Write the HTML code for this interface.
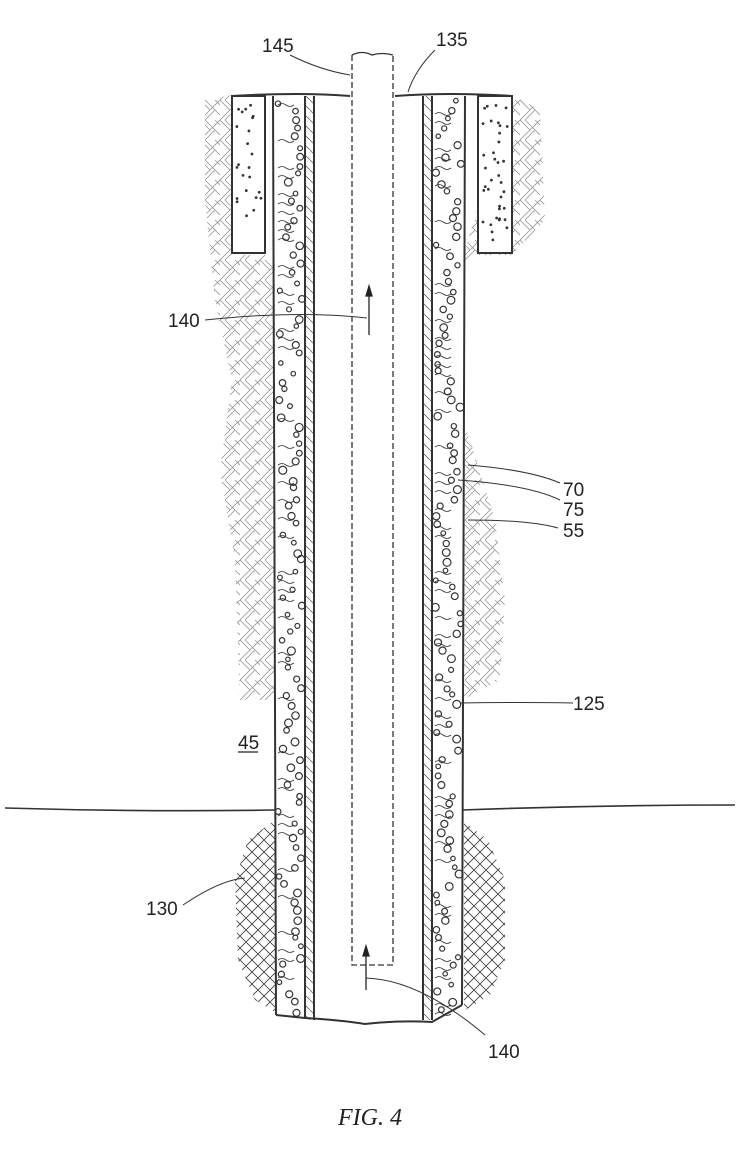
<!DOCTYPE html>
<html><head><meta charset="utf-8"><style>
html,body{margin:0;padding:0;background:#fff;}
svg{display:block}
text{font-family:"Liberation Sans",sans-serif;font-size:19px;fill:#222}
</style></head><body>
<svg id="s" width="739" height="1165" viewBox="0 0 739 1165" xmlns="http://www.w3.org/2000/svg">
<defs>
<pattern id="herr" width="20" height="20" patternUnits="userSpaceOnUse">
<path d="M0 20 L10 10 M5 20 L15 10 M10 10 L20 0 M10 10 L0 0 M15 10 L5 0 M20 15 L15 10 M20 5 L15 0" stroke="#666" stroke-width="0.8" fill="none"/>
</pattern>
<pattern id="cross" width="12" height="12" patternUnits="userSpaceOnUse">
<path d="M0 0 L12 12 M12 0 L0 12" stroke="#444" stroke-width="0.9" fill="none"/>
</pattern>
<pattern id="hatch" width="10" height="10" patternUnits="userSpaceOnUse">
<path d="M0 0 L10 10" stroke="#666" stroke-width="0.8"/>
</pattern>
</defs>
<path d="M205 100 L232 95 L232 255 L265 255 L265 260 L275 260 L275 700 L240 700 L235 560 L220 470 L232 380 L215 300 L205 200 Z" fill="url(#herr)" opacity="0.7"/>
<path d="M512 95 L540 110 L545 220 L512 255 L478 255 L478 260 L462 260 L462 700 L500 680 L505 600 L495 520 L470 440 L462 420 L462 260 Z" fill="url(#herr)" opacity="0.7"/>
<path d="M275 820 L248 840 L235 880 L238 960 L255 1000 L275 1012 Z" fill="url(#cross)"/>
<path d="M462 820 L488 840 L505 880 L505 960 L490 995 L462 1012 Z" fill="url(#cross)"/>
<rect x="232" y="96" width="33" height="157" fill="#fff" stroke="#333" stroke-width="2"/>
<rect x="478" y="96" width="34" height="157" fill="#fff" stroke="#333" stroke-width="2"/>
<rect x="275" y="96" width="30" height="924" fill="#fff"/>
<rect x="432" y="96" width="32" height="924" fill="#fff"/>
<rect x="305" y="96" width="9" height="924" fill="url(#hatch)"/>
<rect x="423" y="96" width="9" height="924" fill="url(#hatch)"/>
<g stroke="#333" stroke-width="2" fill="none">
<line x1="273" y1="96" x2="276" y2="1015"/>
<line x1="305" y1="96" x2="305" y2="1018"/>
<line x1="314" y1="96" x2="314" y2="1020"/>
<line x1="423" y1="96" x2="423" y2="1020"/>
<line x1="432" y1="96" x2="432" y2="1020"/>
<line x1="465" y1="96" x2="462" y2="1005"/>
<path d="M232 96 Q300 92 350 96 M395 96 Q450 92 512 96"/>
<path d="M276 1015 L305 1018 Q340 1020 365 1024 Q400 1020 432 1022 L462 1005"/>
<path d="M5 808 Q140 812 275 810 M462 810 Q600 805 735 805" stroke-width="1.6"/>
</g>
<g stroke="#333" stroke-width="1.3" fill="none" stroke-dasharray="6 3">
<path d="M352 55 L352 965 L393 965 L393 55"/>
</g>
<path d="M352 55 Q362 50 372 55 Q382 52 393 55" stroke="#333" stroke-width="1.3" fill="none"/>
<g id="dots" stroke="#333" stroke-width="1.2" fill="none"></g>
<g stroke="#222" stroke-width="1.3" fill="#222">
<line x1="369" y1="335" x2="369" y2="290"/><path d="M366 296 L369 286 L372 296 Z"/>
<line x1="366" y1="990" x2="366" y2="950"/><path d="M363 956 L366 946 L369 956 Z"/>
</g>
<g stroke="#333" stroke-width="1" fill="none">
<path d="M290 55 Q320 70 350 75"/>
<path d="M435 50 Q415 70 408 92"/>
<path d="M205 320 Q300 310 367 318"/>
<path d="M468 465 Q530 470 560 483"/>
<path d="M458 480 Q530 485 560 500"/>
<path d="M468 520 Q530 520 558 528"/>
<path d="M460 703 Q520 702 573 703"/>
<path d="M183 905 Q220 880 245 878"/>
<path d="M366 978 Q420 980 485 1035"/>
</g>
<text x="262" y="52">145</text>
<text x="436" y="46">135</text>
<text x="168" y="327">140</text>
<text x="563" y="496">70</text>
<text x="563" y="516">75</text>
<text x="563" y="537">55</text>
<text x="573" y="710">125</text>
<text x="238" y="749">45</text>
<line x1="238" y1="752" x2="258" y2="752" stroke="#222" stroke-width="1.2"/>
<text x="146" y="915">130</text>
<text x="488" y="1058">140</text>
<text x="338" y="1125" style="font-family:'Liberation Serif',serif;font-style:italic;font-size:24px">FIG.  4</text>
</svg>
<script>
var g=document.getElementById('dots'),seed=7;
function r(){seed=(seed*16807)%2147483647;return seed/2147483647;}
function add(x0,x1,y0,y1){
 for(var y=y0;y<y1;y+=9){
  var x=x0+3+r()*(x1-x0-6),c=document.createElementNS('http://www.w3.org/2000/svg','circle');
  c.setAttribute('cx',x);c.setAttribute('cy',y+r()*4);c.setAttribute('r',2.2+r()*1.8);g.appendChild(c);
  if(r()<0.5){var p=document.createElementNS('http://www.w3.org/2000/svg','path');
   var yy=y+5;p.setAttribute('d','M'+(x0+3)+' '+yy+' q4 -3 8 0 t8 0');p.setAttribute('stroke-width','0.8');g.appendChild(p);}
 }
}
add(275,305,100,1015);add(432,464,100,1015);
for(var i=0;i<60;i++){var t=document.createElementNS('http://www.w3.org/2000/svg','circle');
 var L=r()<0.5;t.setAttribute('cx',(L?236:482)+r()*26);t.setAttribute('cy',105+r()*140);t.setAttribute('r',0.8);t.setAttribute('fill','#444');g.appendChild(t);}
</script>
</body></html>
